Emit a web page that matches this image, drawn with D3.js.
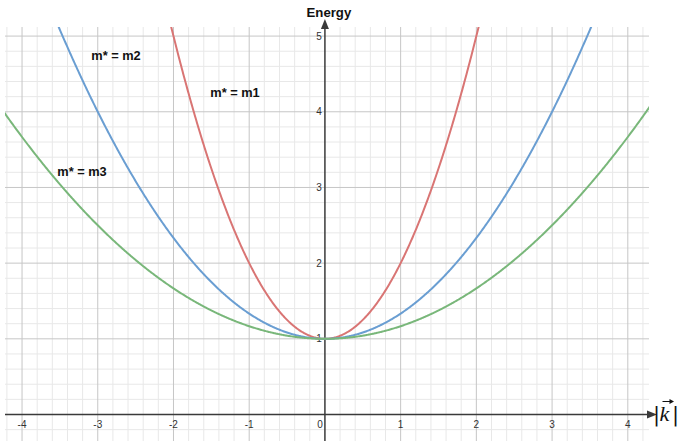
<!DOCTYPE html>
<html>
<head>
<meta charset="utf-8">
<script src="https://cdn.jsdelivr.net/npm/d3@7"></script>
<style>
  html, body { margin: 0; padding: 0; background: #fff; }
  svg { display: block; }
</style>
</head>
<body>
<svg id="chart" width="679" height="445"></svg>
<script>
// Dispersion curves E(k) = 1 + k^2 / c for three effective masses
const seriesNames = ["m* = m1", "m* = m2", "m* = m3"];
const curvature = [1, 3, 6];            // divisor c in E = E0 + k^2 / c
const restEnergy = [1, 1, 1];           // E at k = 0
const seriesColors = ["#d97574", "#6a9ed2", "#79b77a"];
const labelPos = [[235, 92], [116, 55], [82, 171]];  // label anchor (px)
const xTicks = [-4, -3, -2, -1, 1, 2, 3, 4];
const yTicks = [1, 2, 3, 4, 5];

const svg = d3.select("#chart");
const plotL = 5, plotR = 649, plotT = 27, plotB = 441;

const x = d3.scaleLinear().domain([-4.225, 4.28]).range([plotL, plotR]);
const y = d3.scaleLinear().domain([-0.35, 5.12]).range([plotB, plotT]);

const minorX = d3.range(-4.2, 4.3, 0.2).map(v => +v.toFixed(2));
const minorY = d3.range(-0.2, 5.2, 0.2).map(v => +v.toFixed(2));

const grid = svg.append("g");
grid.selectAll(".mx").data(minorX.filter(v => Math.abs(v - Math.round(v)) > 1e-6))
  .join("line").attr("x1", d => x(d)).attr("x2", d => x(d))
  .attr("y1", plotT).attr("y2", plotB).attr("stroke", "#e8e8e8").attr("stroke-width", 1);
grid.selectAll(".my").data(minorY.filter(v => Math.abs(v - Math.round(v)) > 1e-6))
  .join("line").attr("y1", d => y(d)).attr("y2", d => y(d))
  .attr("x1", plotL).attr("x2", plotR).attr("stroke", "#e8e8e8").attr("stroke-width", 1);
grid.selectAll(".Mx").data(xTicks)
  .join("line").attr("x1", d => x(d)).attr("x2", d => x(d))
  .attr("y1", plotT).attr("y2", plotB).attr("stroke", "#c6c6c6").attr("stroke-width", 1);
grid.selectAll(".My").data(yTicks)
  .join("line").attr("y1", d => y(d)).attr("y2", d => y(d))
  .attr("x1", plotL).attr("x2", plotR).attr("stroke", "#c6c6c6").attr("stroke-width", 1);

// Axes with arrowheads
const axisColor = "#3a3a3a";
svg.append("line").attr("x1", plotL).attr("x2", plotR + 2)
  .attr("y1", y(0)).attr("y2", y(0)).attr("stroke", axisColor).attr("stroke-width", 1.5);
svg.append("path")
  .attr("d", `M${plotR + 8},${y(0)} L${plotR - 2},${y(0) - 4} L${plotR - 2},${y(0) + 4} Z`)
  .attr("fill", axisColor);
svg.append("line").attr("x1", x(0)).attr("x2", x(0))
  .attr("y1", plotB).attr("y2", plotT - 2).attr("stroke", axisColor).attr("stroke-width", 1.5);
svg.append("path")
  .attr("d", `M${x(0)},${plotT - 8} L${x(0) - 4},${plotT + 2} L${x(0) + 4},${plotT + 2} Z`)
  .attr("fill", axisColor);

// Tick labels
const tickFont = "Arial, 'Liberation Sans', sans-serif";
svg.selectAll(".xt").data(xTicks).join("text")
  .attr("x", d => x(d)).attr("y", y(0) + 13)
  .attr("text-anchor", "middle").attr("font-family", tickFont)
  .attr("font-size", 10).attr("fill", "#333").text(d => d);
svg.append("text").attr("x", x(0) - 5).attr("y", y(0) + 13)
  .attr("text-anchor", "middle").attr("font-family", tickFont)
  .attr("font-size", 10).attr("fill", "#333").text("0");
svg.selectAll(".yt").data(yTicks).join("text")
  .attr("x", x(0) - 3).attr("y", d => y(d) + 3.5)
  .attr("text-anchor", "end").attr("font-family", tickFont)
  .attr("font-size", 10).attr("fill", "#333").text(d => d);

// Curves
svg.append("clipPath").attr("id", "plotClip")
  .append("rect").attr("x", plotL).attr("y", plotT).attr("width", plotR - plotL).attr("height", plotB - plotT);
const ks = d3.range(-4.3, 4.3001, 0.01);
const line = d3.line().x(d => x(d[0])).y(d => y(d[1]));
const curves = svg.append("g").attr("clip-path", "url(#plotClip)");
seriesNames.forEach((name, i) => {
  const pts = ks.map(k => [k, restEnergy[i] + k * k / curvature[i]]).filter(p => p[1] < 5.4);
  curves.append("path").datum(pts).attr("d", line)
    .attr("fill", "none").attr("stroke", seriesColors[i]).attr("stroke-width", 2);
});

// Series labels
const labelFont = "Arial, 'Liberation Sans', Helvetica, sans-serif";
seriesNames.forEach((name, i) => {
  svg.append("text").attr("x", labelPos[i][0]).attr("y", labelPos[i][1] + 4.5)
    .attr("text-anchor", "middle").attr("font-family", labelFont)
    .attr("font-weight", "bold").attr("font-size", 12.8).attr("fill", "#111").text(name);
});

// Axis titles
svg.append("text").attr("x", x(0) + 4).attr("y", 17).attr("text-anchor", "middle")
  .attr("font-family", labelFont).attr("font-weight", "bold").attr("font-size", 13.2)
  .attr("fill", "#111").text("Energy");

const kLab = svg.append("g").attr("fill", "#111");
kLab.append("text").attr("x", 653).attr("y", 421).attr("font-family", "'DejaVu Serif', 'Liberation Serif', serif")
  .attr("font-size", 21).text("|");
kLab.append("text").attr("x", 659.5).attr("y", 421).attr("font-family", "'Liberation Serif', 'DejaVu Serif', serif")
  .attr("font-style", "italic").attr("font-size", 22).text("k");
kLab.append("text").attr("x", 679).attr("y", 421).attr("text-anchor", "end")
  .attr("font-family", "'DejaVu Serif', 'Liberation Serif', serif")
  .attr("font-size", 21).text("|");
kLab.append("path").attr("d", "M662.5,401.5 L671.5,401.5").attr("stroke", "#111").attr("stroke-width", 1).attr("fill", "none");
kLab.append("path").attr("d", "M674,401.5 L669.5,399 L669.5,404 Z");
</script>
</body>
</html>
